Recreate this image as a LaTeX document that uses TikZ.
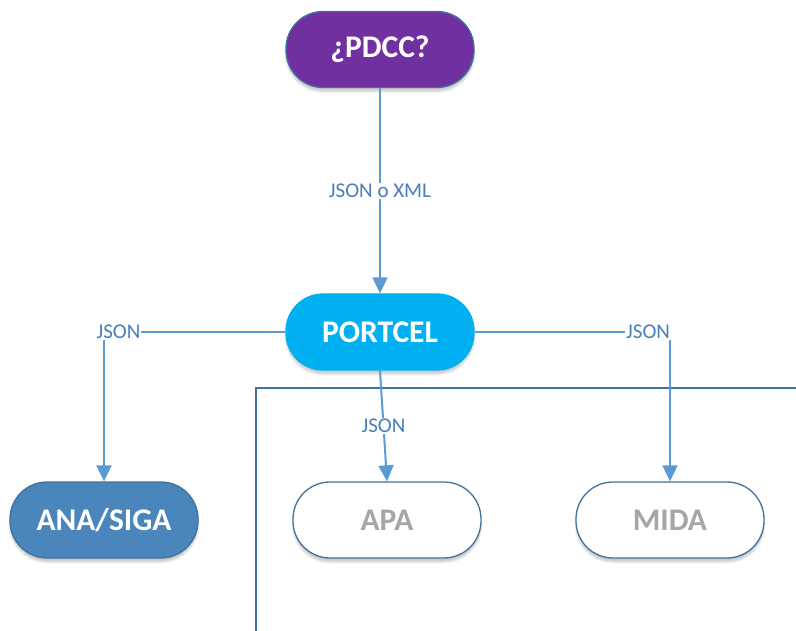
\documentclass[tikz,border=0pt]{standalone}
\usepackage{fontspec}
\setmainfont{Carlito}
\usetikzlibrary{arrows.meta,shadows.blur}
\definecolor{purp}{HTML}{7030A0}
\definecolor{cyanbox}{HTML}{00B0F0}
\definecolor{anablue}{HTML}{4A86BC}
\definecolor{edgeblue}{HTML}{41719C}
\definecolor{linkblue}{HTML}{5B9BD5}
\definecolor{lblblue}{HTML}{4A7EBB}
\definecolor{greytxt}{HTML}{A6A6A6}
\begin{document}
\begin{tikzpicture}[x=1pt,y=-1pt,
  pill/.style={draw=edgeblue, line width=1.3pt, rounded corners=37pt,
    minimum width=188pt, minimum height=76pt, inner sep=0pt,
    font=\fontsize{31.5}{34}\selectfont\bfseries,
    blur shadow={shadow blur steps=6, shadow xshift=0pt, shadow yshift=-4pt, shadow opacity=20}},
  conn/.style={draw=linkblue, line width=2pt, -{Triangle[length=16pt,width=15pt]}},
  lbl/.style={fill=white, text=lblblue, inner sep=1pt, font=\fontsize{21}{23}\selectfont},
  frame/.style={draw=edgeblue, line width=2pt}]
\useasboundingbox (0,0) rectangle (796,631);
\draw[frame] (256,631) -- (256,388) -- (796,388);
\node[pill, fill=purp, text=white] (pdcc) at (380,49.5) {¿PDCC?};
\node[pill, fill=cyanbox, draw=cyanbox, text=white] (portcel) at (380,332) {PORTCEL};
\node[pill, fill=anablue, text=white] (ana) at (104,520) {ANA/SIGA};
\node[pill, fill=white, text=greytxt] (apa) at (387,520) {APA};
\node[pill, fill=white, text=greytxt] (mida) at (670,520) {MIDA};
\draw[conn] (pdcc.south) -- node[lbl] {JSON o XML} (portcel.north);
\draw[conn] (portcel.west) -| node[lbl, pos=0.46] {JSON} (ana.north);
\draw[conn] (portcel.east) -| node[lbl, pos=0.444] {JSON} (mida.north);
\draw[conn] (portcel.south) -- node[lbl] {JSON} (apa.north);
\end{tikzpicture}
\end{document}
